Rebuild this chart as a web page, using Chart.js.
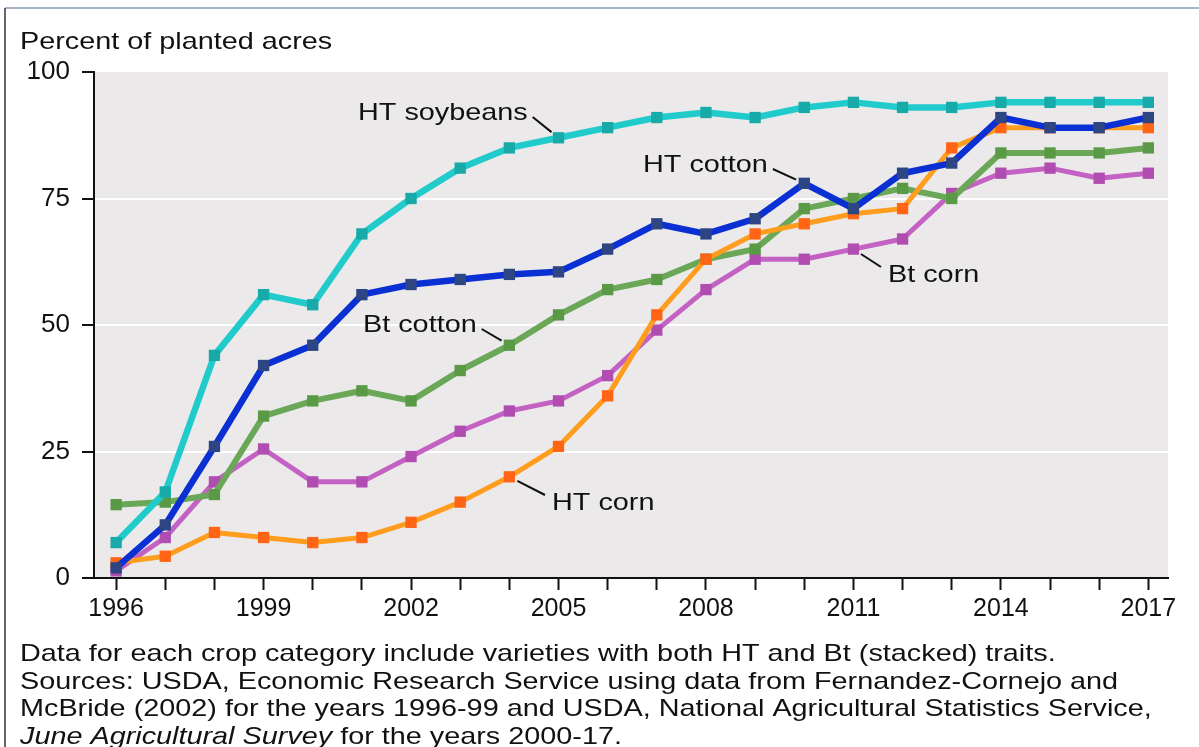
<!DOCTYPE html>
<html>
<head>
<meta charset="utf-8">
<script src="https://cdn.jsdelivr.net/npm/chart.js@4.4.1/dist/chart.umd.min.js"></script>
<style>
body { margin: 0; background: #fff; }
#wrap { position: relative; width: 1199px; height: 747px; }
</style>
</head>
<body>
<div id="wrap"><canvas id="chartjs" width="1199" height="747"></canvas></div>
<script>
/*==== data (percent of planted acres) ====*/
const years = [1996, 1997, 1998, 1999, 2000, 2001, 2002, 2003, 2004, 2005, 2006,
               2007, 2008, 2009, 2010, 2011, 2012, 2013, 2014, 2015, 2016, 2017];
const htSoybeans = [7, 17, 44, 56, 54, 68, 75, 81, 85, 87, 89, 91, 92, 91, 93, 94, 93, 93, 94, 94, 94, 94];
const htCotton   = [2, 10.5, 26, 42, 46, 56, 58, 59, 60, 60.5, 65, 70, 68, 71, 78, 73, 80, 82, 91, 89, 89, 91];
const btCotton   = [14.5, 15, 16.5, 32, 35, 37, 35, 41, 46, 52, 57, 59, 63, 65, 73, 75, 77, 75, 84, 84, 84, 85];
const btCorn     = [1.4, 8, 19, 25.5, 19, 19, 24, 29, 33, 35, 40, 49, 57, 63, 63, 65, 67, 76, 80, 81, 79, 80];
const htCorn     = [3, 4.3, 9, 8, 7, 8, 11, 15, 20, 26, 36, 52, 63, 68, 70, 72, 73, 85, 89, 89, 89, 89];
const yTicks = [0, 25, 50, 75, 100];
const xLabelYears = [1996, 1999, 2002, 2005, 2008, 2011, 2014, 2017];

const titleText = 'Percent of planted acres';
const footLines = [
    'Data for each crop category include varieties with both HT and Bt (stacked) traits.',
    'Sources: USDA, Economic Research Service using data from Fernandez-Cornejo and',
    'McBride (2002) for the years 1996-99 and USDA, National Agricultural Statistics Service,'
];
const footItalic = 'June Agricultural Survey';
const footTail = ' for the years 2000-17.';

const FONT = "'Liberation Sans', Arial, sans-serif";
const SX = 1.2; // the source text is a bit wide

function toPoints(vals){
    return vals.map((v, i) => ({x: years[i], y: v}));
}

function series(label, vals, line, mark, width, order){
    return {
        label: label,
        data: toPoints(vals),
        borderColor: line,
        backgroundColor: mark,
        borderWidth: width,
        pointStyle: 'rect',
        pointRadius: 8,
        pointBorderWidth: 0,
        pointBackgroundColor: mark,
        tension: 0,
        borderJoinStyle: 'round',
        order: order
    };
}

// annotation labels: dataset index + year they point at
const notes = [
    {text: 'HT soybeans', set: 0, year: 2005, tx: 358, ty: 120, side: 'left'},
    {text: 'HT cotton',   set: 1, year: 2010, tx: 643, ty: 172, side: 'left'},
    {text: 'Bt cotton',   set: 2, year: 2004, tx: 363, ty: 332, side: 'left'},
    {text: 'HT corn',     set: 4, year: 2004, tx: 552, ty: 510, side: 'right'},
    {text: 'Bt corn',     set: 3, year: 2011, tx: 888, ty: 282, side: 'right'}
];

function wideText(ctx, str, x, y, font){
    ctx.save();
    ctx.font = font;
    ctx.translate(x, y);
    ctx.scale(SX, 1);
    ctx.fillText(str, 0, 0);
    const w = ctx.measureText(str).width * SX;
    ctx.restore();
    return w;
}

const decor = {
    id: 'decor',
    beforeDraw(chart){
        const ctx = chart.ctx, a = chart.chartArea;
        ctx.save();
        ctx.fillStyle = '#fff';
        ctx.fillRect(0, 0, chart.width, chart.height);
        ctx.fillStyle = '#ebe9ea';
        ctx.fillRect(a.left, a.top, a.right - a.left, a.bottom - a.top);
        // frame of the figure
        ctx.strokeStyle = '#a7b3c6';
        ctx.lineWidth = 2;
        ctx.beginPath(); ctx.moveTo(5, 8); ctx.lineTo(chart.width, 8); ctx.stroke();
        ctx.strokeStyle = '#333';
        ctx.lineWidth = 1.5;
        ctx.beginPath(); ctx.moveTo(5, 8); ctx.lineTo(5, chart.height); ctx.stroke();
        ctx.restore();
    },
    afterDraw(chart){
        const ctx = chart.ctx;
        const xs = chart.scales.x, ys = chart.scales.y;
        const f = '24px ' + FONT;
        ctx.save();
        ctx.fillStyle = '#111';
        ctx.textBaseline = 'alphabetic';
        ctx.textAlign = 'left';
        wideText(ctx, titleText, 20, 49, f);

        ctx.strokeStyle = '#111';
        ctx.lineWidth = 2;
        notes.forEach(n => {
            const ds = chart.data.datasets[n.set];
            const idx = years.indexOf(n.year);
            const px = xs.getPixelForValue(n.year);
            const py = ys.getPixelForValue(ds.data[idx].y);
            const w = wideText(ctx, n.text, n.tx, n.ty, f);
            let sx, sy;
            if (n.side === 'left'){ sx = n.tx + w + 5; sy = n.ty - 3; }
            else { sx = n.tx - 7; sy = n.ty - 15; }
            const dx = sx - px, dy = sy - py, d = Math.hypot(dx, dy);
            const ex = px + dx / d * 9, ey = py + dy / d * 9;
            ctx.beginPath(); ctx.moveTo(sx, sy); ctx.lineTo(ex, ey); ctx.stroke();
        });

        let y = 661;
        footLines.forEach(line => { wideText(ctx, line, 20, y, f); y += 27.5; });
        const w = wideText(ctx, footItalic, 20, y, 'italic 24px ' + FONT);
        wideText(ctx, footTail, 20 + w, y, f);
        ctx.restore();
    }
};

const config = {
    type: 'line',
    data: {
        datasets: [
            series('HT soybeans', htSoybeans, '#22cbcb', '#17aaa9', 6.5, 1),
            series('HT cotton',   htCotton,   '#0a30d4', '#2d4583', 6.5, 0),
            series('Bt cotton',   btCotton,   '#6aa757', '#5a9a47', 6, 3),
            series('Bt corn',     btCorn,     '#c462c4', '#b14db1', 5, 4),
            series('HT corn',     htCorn,     '#ff9d1e', '#ff6514', 5, 2)
        ]
    },
    options: {
        responsive: false,
        animation: false,
        layout: { padding: { top: 72, right: 31, left: 0, bottom: 0 } },
        plugins: { legend: { display: false }, tooltip: { enabled: false } },
        scales: {
            x: {
                type: 'linear',
                min: 1995.55,
                max: 2017.4,
                afterBuildTicks: s => { s.ticks = years.map(v => ({value: v})); },
                afterFit: s => { s.height = 169; },
                border: { display: true, color: '#111', width: 2 },
                grid: { drawOnChartArea: false, drawTicks: true, tickLength: 12, tickColor: '#111', tickWidth: 2 },
                ticks: {
                    autoSkip: false, maxRotation: 0, padding: 4, color: '#111',
                    font: { family: FONT, size: 25 },
                    callback: v => xLabelYears.includes(v) ? String(v) : ''
                }
            },
            y: {
                min: 0,
                max: 100,
                afterBuildTicks: s => { s.ticks = yTicks.map(v => ({value: v})); },
                afterFit: s => { s.width = 94; },
                border: { display: true, color: '#111', width: 2 },
                grid: {
                    color: c => (c.tick && c.tick.value > 0 && c.tick.value < 100) ? '#ffffff' : 'rgba(0,0,0,0)',
                    lineWidth: 2,
                    drawTicks: true, tickLength: 12, tickColor: '#111', tickWidth: 2
                },
                ticks: { padding: 12, color: '#111', font: { family: FONT, size: 26 } }
            }
        }
    },
    plugins: [decor]
};

var movieChart = new Chart(document.querySelector('#chartjs'), config);
</script>
</body>
</html>
